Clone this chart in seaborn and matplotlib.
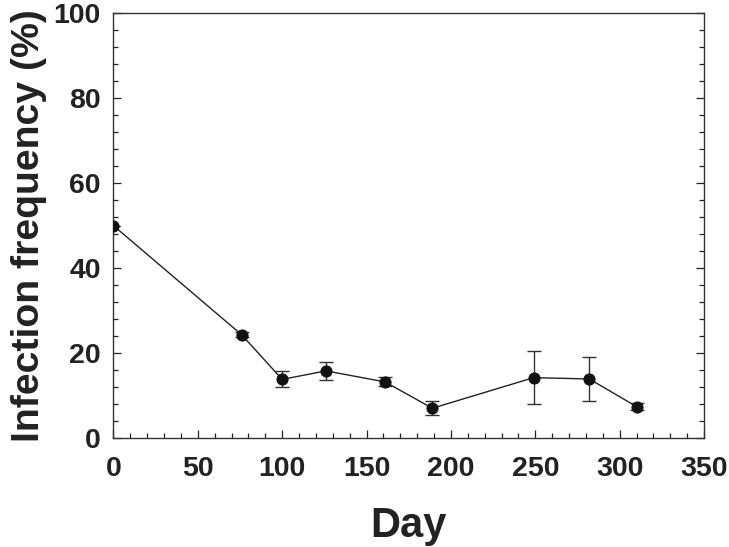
import matplotlib
matplotlib.use("Agg")
import matplotlib.pyplot as plt
from matplotlib.ticker import MultipleLocator
import seaborn as sns
import pandas as pd

days = [0, 76, 100, 126, 161, 189, 249, 282, 310]
freq = [50.0, 24.3, 13.8, 15.8, 13.2, 7.0, 14.2, 13.9, 7.4]
err = [0.0, 0.6, 1.9, 2.05, 1.05, 1.6, 6.3, 5.2, 0.8]
x_ticks = [0, 50, 100, 150, 200, 250, 300, 350]
y_ticks = [0, 20, 40, 60, 80, 100]

df = pd.DataFrame({"Day": days, "Freq": freq, "Err": err})

sns.set_theme(style="ticks")
plt.rcParams['font.family'] = ['Liberation Sans', 'DejaVu Sans']

fig = plt.figure(figsize=(7.29, 5.47), dpi=100)
ax = fig.add_axes([0.1556, 0.1993, 0.9657 - 0.1556, 0.9757 - 0.1993])

ax.errorbar(df["Day"], df["Freq"], yerr=df["Err"], fmt="none", ecolor="#333333",
            elinewidth=1.0, capsize=5, capthick=1.0, zorder=2)
sns.lineplot(data=df, x="Day", y="Freq", ax=ax, color="#222222", linewidth=1.0,
             marker="o", markersize=8, markerfacecolor="#111111",
             markeredgecolor="#111111", zorder=3)

ax.set_xlim(0, 350)
ax.set_ylim(0, 100)
ax.set_xticks(x_ticks)
ax.set_yticks(y_ticks)
ax.xaxis.set_minor_locator(MultipleLocator(10))
ax.yaxis.set_minor_locator(MultipleLocator(4))
ax.tick_params(which="both", direction="in", top=False, right=True, colors="#222222", width=0.9)
ax.tick_params(which="major", length=6, labelsize=20.5)
ax.tick_params(axis="x", which="major", pad=13)
ax.tick_params(axis="y", which="major", pad=9)
ax.tick_params(which="minor", length=3.5)
for lab in ax.get_xticklabels() + ax.get_yticklabels():
    lab.set_fontweight("bold")
    lab.set_color("#222222")
for s in ax.spines.values():
    s.set_visible(True)
    s.set_linewidth(1.0)
    s.set_color("#333333")

ax.set_xlabel("Day", fontsize=30, fontweight="bold", color="#222222")
ax.set_ylabel("Infection frequency (%)", fontsize=28.3, fontweight="bold", color="#222222")
ax.xaxis.set_label_coords(0.5, -0.16)
ax.yaxis.set_label_coords(-0.112, 0.5)

fig.savefig("out.png", dpi=100)
